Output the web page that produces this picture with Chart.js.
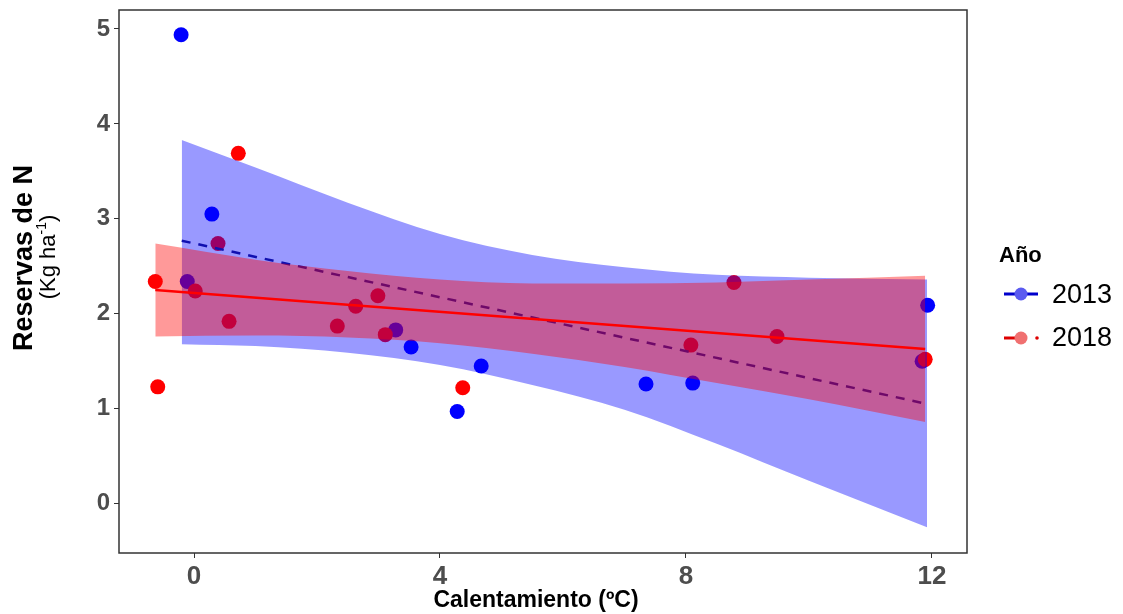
<!DOCTYPE html>
<html>
<head>
<meta charset="utf-8">
<script src="https://cdn.jsdelivr.net/npm/chart.js@4/dist/chart.umd.min.js"></script>
<style>
  html, body { margin: 0; padding: 0; background: #ffffff; }
  #wrap { width: 1123px; height: 614px; }
</style>
</head>
<body>
<div id="wrap"><canvas id="myChart" width="1123" height="614"></canvas></div>
<script>
// warming (x) vs N reserves (y), one set per year
const pts2013 = [
    {x: -0.21, y: 4.94}, {x: 0.29, y: 3.05}, {x: -0.11, y: 2.34}, {x: 3.28, y: 1.83},
    {x: 3.53, y: 1.65}, {x: 4.28, y: 0.97}, {x: 4.67, y: 1.45}, {x: 7.35, y: 1.26},
    {x: 8.11, y: 1.27}, {x: 11.93, y: 2.09}, {x: 11.84, y: 1.50}
];
const pts2018 = [
    {x: -0.63, y: 2.34}, {x: -0.59, y: 1.23}, {x: 0.02, y: 2.24}, {x: 0.39, y: 2.74},
    {x: 0.72, y: 3.69}, {x: 0.57, y: 1.92}, {x: 2.33, y: 1.87}, {x: 2.63, y: 2.08},
    {x: 2.99, y: 2.19}, {x: 3.11, y: 1.78}, {x: 4.37, y: 1.22}, {x: 8.78, y: 2.33},
    {x: 8.08, y: 1.67}, {x: 9.48, y: 1.76}, {x: 11.89, y: 1.52}
];

// fitted lines (end points)
const fit2013X = [-0.2, 11.92];
const fit2013Y = [2.77, 1.05];
const fit2018X = [-0.63, 11.89];
const fit2018Y = [2.25, 1.63];

// confidence ribbons
const band2013X = [-0.2, 1, 2.5, 4, 5.5, 7, 8.5, 10, 11.92];
const band2013Lo = [1.68, 1.66, 1.59, 1.46, 1.25, 0.99, 0.63, 0.24, -0.25];
const band2013Hi = [3.83, 3.54, 3.17, 2.84, 2.62, 2.49, 2.41, 2.38, 2.36];
const band2018X = [-0.63, 1, 2.5, 4, 5.5, 7, 8.5, 10, 11.89];
const band2018Lo = [1.76, 1.77, 1.75, 1.69, 1.58, 1.44, 1.27, 1.10, 0.86];
const band2018Hi = [2.74, 2.57, 2.45, 2.36, 2.32, 2.32, 2.33, 2.36, 2.40];

const xTicks = [0, 4, 8, 12];
const yTicks = [0, 1, 2, 3, 4, 5];
const years = ['2013', '2018'];

const FONT = '"Liberation Sans", Arial, sans-serif';
const AXIS = '#4d4d4d';

function zip(xs, ys) {
    return xs.map((x, i) => ({x: x, y: ys[i]}));
}

// titles, panel frame and the legend on the right
const decor = {
    id: 'decor',
    afterDraw(chart) {
        const ctx = chart.ctx;
        const a = chart.chartArea;
        ctx.save();
        ctx.setLineDash([]);
        ctx.strokeStyle = '#333333';
        ctx.lineWidth = 1.5;
        ctx.strokeRect(a.left, a.top, a.right - a.left, a.bottom - a.top);

        // x title
        ctx.fillStyle = '#000';
        ctx.textAlign = 'center';
        ctx.textBaseline = 'middle';
        ctx.font = 'bold 23px ' + FONT;
        ctx.fillText('Calentamiento (ºC)', 536, 601);

        // y title, two lines
        ctx.save();
        ctx.translate(25, 258);
        ctx.rotate(-Math.PI / 2);
        ctx.font = 'bold 27px ' + FONT;
        ctx.fillText('Reservas de N', 0, 0);
        ctx.restore();

        ctx.save();
        ctx.translate(49, 257);
        ctx.rotate(-Math.PI / 2);
        ctx.textAlign = 'left';
        ctx.font = '22px ' + FONT;
        const p1 = '(Kg ha', p3 = ')';
        const w1 = ctx.measureText(p1).width, w3 = ctx.measureText(p3).width;
        ctx.font = '14px ' + FONT;
        const w2 = ctx.measureText('-1').width;
        let x0 = -(w1 + w2 + w3) / 2;
        ctx.font = '22px ' + FONT;
        ctx.fillText(p1, x0, 0);
        ctx.font = '14px ' + FONT;
        ctx.fillText('-1', x0 + w1, -7);
        ctx.font = '22px ' + FONT;
        ctx.fillText(p3, x0 + w1 + w2, 0);
        ctx.restore();

        // legend
        ctx.textAlign = 'left';
        ctx.font = 'bold 22px ' + FONT;
        ctx.fillText('Año', 999, 256);

        ctx.lineWidth = 3;
        ctx.strokeStyle = '#0000cc';
        ctx.beginPath(); ctx.moveTo(1004, 294); ctx.lineTo(1038, 294); ctx.stroke();
        ctx.fillStyle = '#5a5af0';
        ctx.beginPath(); ctx.arc(1021, 294, 6.5, 0, Math.PI * 2); ctx.fill();

        ctx.strokeStyle = '#dd0000';
        ctx.beginPath(); ctx.moveTo(1004, 338); ctx.lineTo(1018, 338); ctx.stroke();
        ctx.fillStyle = '#f07070';
        ctx.beginPath(); ctx.arc(1021, 338, 6.5, 0, Math.PI * 2); ctx.fill();
        ctx.fillStyle = '#dd0000';
        ctx.beginPath(); ctx.arc(1037, 338, 1.8, 0, Math.PI * 2); ctx.fill();

        ctx.fillStyle = '#000';
        ctx.font = '27px ' + FONT;
        ctx.fillText(years[0], 1052, 296);
        ctx.fillText(years[1], 1052, 339);
        ctx.restore();
    }
};

var ctx = document.getElementById('myChart').getContext('2d');
var myChart = new Chart(ctx, {
    type: 'scatter',
    data: {
        datasets: [{
            // red fit line, on top of everything
            type: 'line',
            data: zip(fit2018X, fit2018Y),
            borderColor: 'rgb(255, 0, 0)',
            borderWidth: 2.5,
            pointRadius: 0,
            fill: false,
            order: 1
        }, {
            type: 'line',
            data: zip(band2018X, band2018Lo),
            borderWidth: 0,
            pointRadius: 0,
            fill: false,
            cubicInterpolationMode: 'monotone',
            order: 2
        }, {
            type: 'line',
            data: zip(band2018X, band2018Hi),
            borderWidth: 0,
            pointRadius: 0,
            backgroundColor: 'rgba(255, 0, 0, 0.4)',
            fill: '-1',
            cubicInterpolationMode: 'monotone',
            order: 2
        }, {
            type: 'line',
            data: zip(fit2013X, fit2013Y),
            borderColor: '#1010b0',
            borderWidth: 2.5,
            borderDash: [9, 8],
            pointRadius: 0,
            fill: false,
            order: 3
        }, {
            type: 'line',
            data: zip(band2013X, band2013Lo),
            borderWidth: 0,
            pointRadius: 0,
            fill: false,
            cubicInterpolationMode: 'monotone',
            order: 4
        }, {
            type: 'line',
            data: zip(band2013X, band2013Hi),
            borderWidth: 0,
            pointRadius: 0,
            backgroundColor: 'rgba(0, 0, 255, 0.4)',
            fill: '-1',
            cubicInterpolationMode: 'monotone',
            order: 4
        }, {
            label: years[1],
            data: pts2018,
            pointRadius: 7.5,
            pointBackgroundColor: 'rgb(255, 0, 0)',
            pointBorderWidth: 0,
            order: 5
        }, {
            label: years[0],
            data: pts2013,
            pointRadius: 7.5,
            pointBackgroundColor: 'rgb(0, 0, 255)',
            pointBorderWidth: 0,
            order: 6
        }]
    },
    options: {
        responsive: false,
        animation: false,
        layout: {
            padding: {left: 0, right: 156, top: 10, bottom: 0}
        },
        scales: {
            x: {
                type: 'linear',
                min: -1.22,
                max: 12.57,
                afterBuildTicks: (scale) => { scale.ticks = xTicks.map(v => ({value: v})); },
                afterFit: (scale) => {
                    scale.height = 61;
                    scale.paddingLeft = 0;
                    scale.paddingRight = 0;
                },
                grid: {
                    drawOnChartArea: false,
                    drawTicks: true,
                    tickLength: 5,
                    color: '#333333'
                },
                border: {display: false},
                ticks: {
                    color: AXIS,
                    padding: 3,
                    font: {family: FONT, size: 26, weight: 'bold'}
                }
            },
            y: {
                type: 'linear',
                min: -0.52,
                max: 5.2,
                afterBuildTicks: (scale) => { scale.ticks = yTicks.map(v => ({value: v})); },
                afterFit: (scale) => {
                    scale.width = 119;
                    scale.paddingTop = 0;
                    scale.paddingBottom = 0;
                },
                grid: {
                    drawOnChartArea: false,
                    drawTicks: true,
                    tickLength: 5,
                    color: '#333333'
                },
                border: {display: false},
                ticks: {
                    color: AXIS,
                    padding: 4,
                    font: {family: FONT, size: 24, weight: 'bold'}
                }
            }
        },
        plugins: {
            legend: {display: false},
            tooltip: {enabled: false}
        }
    },
    plugins: [decor]
});
</script>
</body>
</html>
